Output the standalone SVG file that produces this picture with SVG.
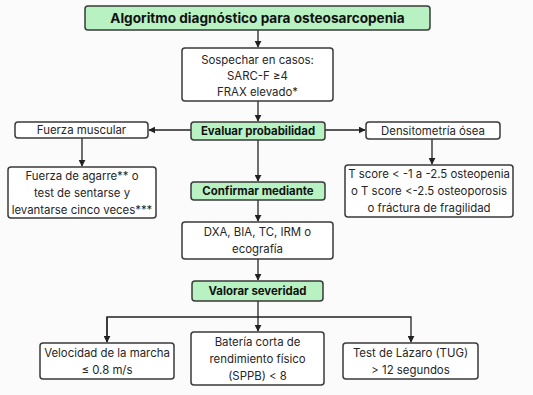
<svg xmlns="http://www.w3.org/2000/svg" width="533" height="395" viewBox="0 0 533 395">
<defs>
<marker id="ah" viewBox="0 0 10 10" refX="9" refY="5" markerWidth="7" markerHeight="7" markerUnits="userSpaceOnUse" orient="auto"><path d="M0,0 L10,5 L0,10 z" fill="#222"/></marker>
<style>
.g{fill:#b8f2c2;stroke:#3a3a3a;stroke-width:1.5}
.w{fill:#ffffff;stroke:#3a3a3a;stroke-width:1.5}
.t{font-family:Inter,"Liberation Sans",sans-serif;font-size:11.4px;fill:#262626;text-anchor:middle}
.b{font-family:Inter,"Liberation Sans",sans-serif;font-size:11.4px;font-weight:bold;fill:#111;text-anchor:middle}
.c{fill:none;stroke:#222;stroke-width:1.3}
</style>
</defs>
<rect x="0" y="0" width="533" height="395" fill="#fbfbfb"/>
<g id="connectors">
<path class="c" d="M258,30 V47" marker-end="url(#ah)"/>
<path class="c" d="M258,101 V121" marker-end="url(#ah)"/>
<path class="c" d="M191,130 H149" marker-end="url(#ah)"/>
<path class="c" d="M325,130 H365" marker-end="url(#ah)"/>
<path class="c" d="M82,138 V166" marker-end="url(#ah)"/>
<path class="c" d="M432,139 V164" marker-end="url(#ah)"/>
<path class="c" d="M258,140 V181" marker-end="url(#ah)"/>
<path class="c" d="M258,200 V221" marker-end="url(#ah)"/>
<path class="c" d="M258,259 V280" marker-end="url(#ah)"/>
<path class="c" d="M258,301 V331" marker-end="url(#ah)"/>
<path class="c" d="M107,342 V317 H411 V342" marker-end="url(#ah)"/>
<path class="c" d="M107,317 V342" marker-end="url(#ah)"/>
</g>
<g id="title"><rect class="g" x="85" y="6" width="345" height="24" rx="3"/><text class="b" x="257.5" y="23" style="font-size:13.6px">Algoritmo diagnóstico para osteosarcopenia</text></g>
<g id="sospechar"><rect class="w" x="182" y="48" width="151" height="53" rx="3"/><text class="t" x="257.5" y="64">Sospechar en casos:</text><text class="t" x="257.5" y="80">SARC-F ≥4</text><text class="t" x="257.5" y="96">FRAX elevado*</text></g>
<g id="evaluar"><rect class="g" x="191" y="122" width="134" height="18" rx="3"/><text class="b" x="258" y="135">Evaluar probabilidad</text></g>
<g id="fuerza"><rect class="w" x="15" y="122" width="133" height="16" rx="3"/><text class="t" x="81.5" y="134">Fuerza muscular</text></g>
<g id="densitometria"><rect class="w" x="366" y="122" width="134" height="17" rx="3"/><text class="t" x="433" y="134.5">Densitometría  ósea</text></g>
<g id="agarre"><rect class="w" x="8" y="167" width="148" height="51" rx="3"/><text class="t" x="82" y="180">Fuerza de agarre** o</text><text class="t" x="82" y="197">test de sentarse y</text><text class="t" x="82" y="214">levantarse cinco veces***</text></g>
<g id="tscore"><rect class="w" x="345" y="165" width="168" height="52" rx="3"/><text class="t" x="429" y="178">T score &lt; -1 a -2.5 osteopenia</text><text class="t" x="429" y="195">o T score &lt;-2.5 osteoporosis</text><text class="t" x="429" y="212">o fráctura de fragilidad</text></g>
<g id="confirmar"><rect class="g" x="191" y="182" width="134" height="18" rx="3"/><text class="b" x="258" y="195">Confirmar mediante</text></g>
<g id="dxa"><rect class="w" x="182" y="222" width="151" height="37" rx="3"/><text class="t" x="257.5" y="236">DXA, BIA, TC, IRM o</text><text class="t" x="257.5" y="253">ecografía</text></g>
<g id="valorar"><rect class="g" x="192" y="281" width="131" height="20" rx="3"/><text class="b" x="257.5" y="295">Valorar severidad</text></g>
<g id="velocidad"><rect class="w" x="40" y="343" width="134" height="36" rx="3"/><text class="t" x="107" y="357">Velocidad de la marcha</text><text class="t" x="107" y="374">≤ 0.8 m/s</text></g>
<g id="bateria"><rect class="w" x="191" y="332" width="133" height="53" rx="3"/><text class="t" x="257.5" y="346">Batería corta de</text><text class="t" x="257.5" y="363">rendimiento físico</text><text class="t" x="257.5" y="380">(SPPB) &lt; 8</text></g>
<g id="lazaro"><rect class="w" x="343" y="343" width="135" height="36" rx="3"/><text class="t" x="410.5" y="357">Test de Lázaro (TUG)</text><text class="t" x="410.5" y="374">&gt; 12 segundos</text></g>
</svg>
